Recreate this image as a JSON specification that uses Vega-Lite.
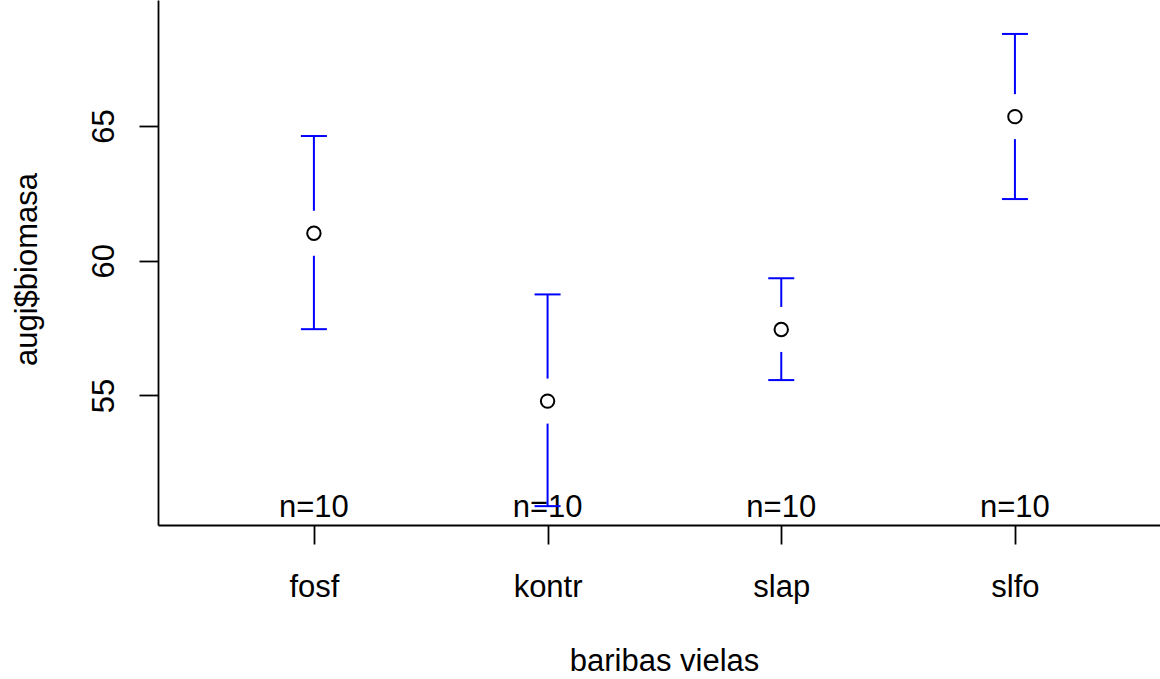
{
  "$schema": "https://vega.github.io/schema/vega-lite/v6.json",
  "width": 1002,
  "height": 525,
  "autosize": {"type": "none"},
  "padding": {"left": 158, "top": 0, "right": 0, "bottom": 154},
  "background": "white",
  "config": {
    "view": {"stroke": null},
    "font": "Liberation Sans",
    "axisX": {
      "labelFontSize": 31, "labelBaseline": "alphabetic", "labelPadding": 52, "labelAngle": 0,
      "labelColor": "black", "tickSize": 19, "tickWidth": 1.8, "tickColor": "black",
      "domainColor": "black", "domainWidth": 1.8, "grid": false,
      "titleFontSize": 31, "titleFontWeight": "normal", "titleColor": "black",
      "titleX": 506, "titleY": 145, "titleAlign": "center", "titleBaseline": "alphabetic"
    },
    "axisY": {
      "labelFontSize": 31, "labelBaseline": "alphabetic", "labelAlign": "center", "labelAngle": 270,
      "labelPadding": 26, "labelColor": "black", "tickSize": 19, "tickWidth": 1.8, "tickColor": "black",
      "domainColor": "black", "domainWidth": 1.8, "grid": false,
      "titleFontSize": 31, "titleFontWeight": "normal", "titleColor": "black", "titleAngle": 270,
      "titleX": -122, "titleY": 269, "titleAlign": "center", "titleBaseline": "alphabetic"
    }
  },
  "data": {
    "values": [
      {"group": "fosf", "mean": 61.02, "lower": 57.46, "upper": 64.63, "n": 10},
      {"group": "kontr", "mean": 54.79, "lower": 50.89, "upper": 58.75, "n": 10},
      {"group": "slap", "mean": 57.45, "lower": 55.57, "upper": 59.35, "n": 10},
      {"group": "slfo", "mean": 65.35, "lower": 62.29, "upper": 68.42, "n": 10}
    ]
  },
  "transform": [{"calculate": "'n=' + datum.n", "as": "nlabel"}],
  "encoding": {
    "x": {
      "field": "group", "type": "nominal", "sort": null,
      "scale": {"type": "point", "padding": 0.644, "align": 0.518},
      "title": "baribas vielas"
    }
  },
  "layer": [
    {
      "mark": {"type": "text", "fontSize": 31, "baseline": "alphabetic", "align": "center", "dy": -8, "color": "black"},
      "encoding": {"y": {"value": "height"}, "text": {"field": "nlabel"}}
    },
    {
      "mark": {"type": "rule", "color": "#0000FF", "strokeWidth": 2, "y2Offset": -22.5},
      "encoding": {
        "y": {"field": "upper", "type": "quantitative", "title": "augi$biomasa", "axis": {"values": [55, 60, 65]}, "scale": {"domain": [50.19, 69.68], "nice": false, "zero": false}},
        "y2": {"field": "mean"}
      }
    },
    {
      "mark": {"type": "rule", "color": "#0000FF", "strokeWidth": 2, "y2Offset": 22.5},
      "encoding": {
        "y": {"field": "lower", "type": "quantitative", "title": "augi$biomasa", "axis": {"values": [55, 60, 65]}, "scale": {"domain": [50.19, 69.68], "nice": false, "zero": false}},
        "y2": {"field": "mean"}
      }
    },
    {
      "mark": {"type": "tick", "color": "#0000FF", "size": 26, "thickness": 2, "orient": "horizontal", "opacity": 1},
      "encoding": {
        "y": {"field": "upper", "type": "quantitative", "title": "augi$biomasa", "axis": {"values": [55, 60, 65]}, "scale": {"domain": [50.19, 69.68], "nice": false, "zero": false}}
      }
    },
    {
      "mark": {"type": "tick", "color": "#0000FF", "size": 26, "thickness": 2, "orient": "horizontal", "opacity": 1},
      "encoding": {
        "y": {"field": "lower", "type": "quantitative", "title": "augi$biomasa", "axis": {"values": [55, 60, 65]}, "scale": {"domain": [50.19, 69.68], "nice": false, "zero": false}}
      }
    },
    {
      "mark": {"type": "point", "shape": "circle", "filled": false, "stroke": "black", "strokeWidth": 2, "size": 180, "opacity": 1},
      "encoding": {
        "y": {"field": "mean", "type": "quantitative", "title": "augi$biomasa", "axis": {"values": [55, 60, 65]}, "scale": {"domain": [50.19, 69.68], "nice": false, "zero": false}}
      }
    }
  ]
}
